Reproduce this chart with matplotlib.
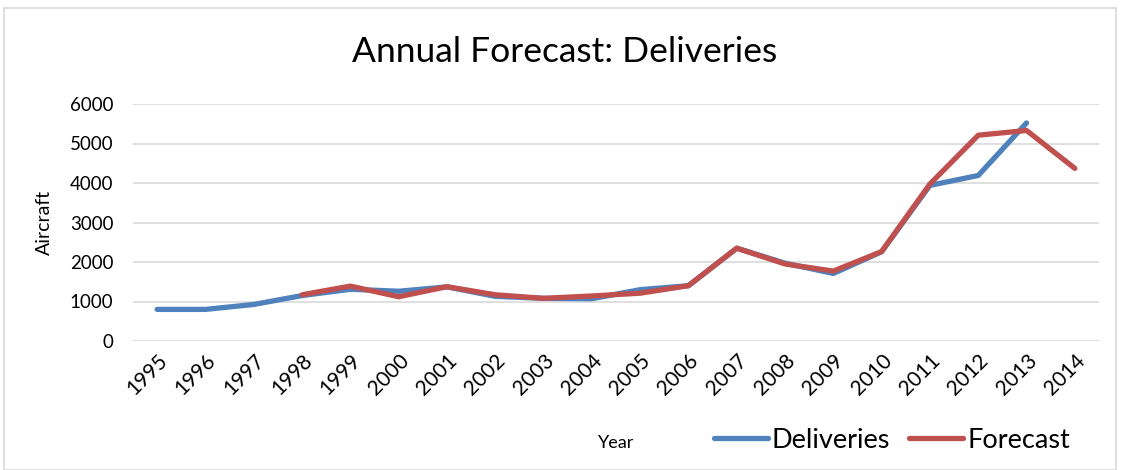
import matplotlib.pyplot as plt
from matplotlib.patches import Rectangle

# data
years = list(range(1995, 2015))
deliveries = [800, 800, 925, 1150, 1310, 1260, 1370, 1130, 1080, 1070,
              1300, 1400, 2350, 1970, 1710, 2260, 3940, 4190, 5520, None]
forecast = [None, None, None, 1170, 1390, 1120, 1375, 1170, 1080, 1140,
            1210, 1400, 2350, 1950, 1770, 2265, 3975, 5210, 5330, 4370]
yticks = [0, 1000, 2000, 3000, 4000, 5000, 6000]

plt.rcParams['font.family'] = ['Lato', 'DejaVu Sans']

fig = plt.figure(figsize=(11.28, 4.70), dpi=100)
ax = fig.add_axes([133 / 1128, 1 - 341 / 470, (1099 - 133) / 1128, (341 - 104) / 470])

xs = list(range(len(years)))
d_x = [x for x, v in zip(xs, deliveries) if v is not None]
d_y = [v for v in deliveries if v is not None]
f_x = [x for x, v in zip(xs, forecast) if v is not None]
f_y = [v for v in forecast if v is not None]

ax.plot(d_x, d_y, color='#4F81BD', lw=3.8, solid_capstyle='round',
        solid_joinstyle='round', label='Deliveries')
ax.plot(f_x, f_y, color='#C0504D', lw=3.8, solid_capstyle='round',
        solid_joinstyle='round', label='Forecast')

ax.set_xlim(-0.5, len(years) - 0.5)
ax.set_ylim(0, 6000)
ax.set_yticks(yticks)
ax.set_xticks(xs)
ax.set_xticklabels([str(y) for y in years], rotation=45, ha='right',
                   va='top', rotation_mode='anchor', fontsize=15)
ax.tick_params(axis='y', labelsize=13.5, length=0, pad=14)
ax.tick_params(axis='x', length=0, pad=7)
ax.grid(axis='y', color='#D9D9D9', lw=1.2)
ax.set_axisbelow(True)
for s in ax.spines.values():
    s.set_visible(False)

ax.set_ylabel('Aircraft', fontsize=14, labelpad=12)
fig.text(616 / 1128, 1 - 443 / 470, 'Year', fontsize=13, ha='center', va='center')
fig.text(565 / 1128, 1 - 52 / 470, 'Annual Forecast: Deliveries', fontsize=25.5,
         ha='center', va='center')

fig.legend(loc='center', bbox_to_anchor=(892 / 1128, 1 - 440 / 470),
           ncol=2, frameon=False, fontsize=19.5, handlelength=2.0,
           columnspacing=0.7, handletextpad=0.15)

fig.patches.append(Rectangle((4 / 1128, 0), 1112 / 1128, 1 - 8 / 470,
                             transform=fig.transFigure, fill=False,
                             edgecolor='#D9D9D9', lw=1.2))

fig.savefig('out.png', dpi=100)
